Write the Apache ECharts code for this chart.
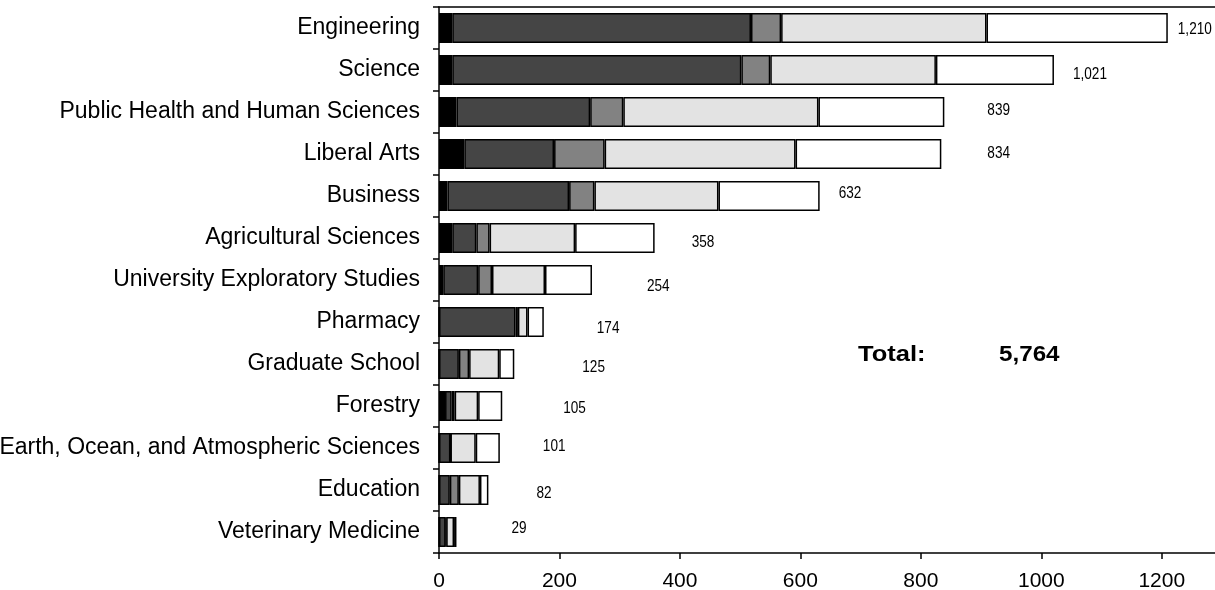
<!DOCTYPE html>
<html><head><meta charset="utf-8">
<script src="https://cdn.jsdelivr.net/npm/echarts@6/dist/echarts.min.js"></script>
<style>html,body{margin:0;padding:0;background:#fff;}#c{width:1215px;height:590px;}</style>
</head><body><div id="c"></div>
<script>
const categories = ["Engineering","Science","Public Health and Human Sciences","Liberal Arts","Business","Agricultural Sciences","University Exploratory Studies","Pharmacy","Graduate School","Forestry","Earth, Ocean, and Atmospheric Sciences","Education","Veterinary Medicine"];
const seg1 = [22, 22, 29, 42, 14, 22, 7, 0, 0, 10, 0, 0, 0];
const seg2 = [496, 480, 222, 149, 202, 40, 58, 127, 33, 11, 19, 18, 11];
const seg3 = [50, 48, 55, 84, 42, 22, 23, 4, 17, 5, 0, 15, 1];
const seg4 = [341, 275, 324, 317, 206, 142, 88, 16, 50, 39, 42, 35, 13];
const seg5 = [301, 196, 209, 242, 168, 132, 78, 27, 25, 40, 40, 14, 4];
const totals = [1210, 1021, 839, 834, 632, 358, 254, 174, 125, 105, 101, 82, 29];
const xTicks = [0, 200, 400, 600, 800, 1000, 1200];
const totalLabel = "Total:";
const grandTotal = "5,764";

// label placement (pixels) relative to bar end
const labelDx = [10, 19, 43, 46, 19, 37, 55, 53, 68, 61, 43, 48, 55];
const labelDy = [1, 4, -2, -1, -3, 4, 6, 6, 3, 2, -2, 3, -4];

const fmt = v => v.toLocaleString('en-US');
const colors = ['#000000', '#454545', '#828282', '#e3e3e3', '#ffffff'];
const segs = [seg1, seg2, seg3, seg4, seg5];
const FONT = '"Liberation Sans", Arial, sans-serif';

const series = segs.map((arr, si) => ({
  type: 'bar', stack: 'all', barWidth: 30,
  itemStyle: { color: colors[si], borderColor: '#000', borderWidth: 1.5 },
  emphasis: { disabled: true },
  data: arr
}));

series.push({
  type: 'custom',
  data: totals.map((t, i) => [t, i]),
  renderItem: function (params, api) {
    const i = params.dataIndex;
    const p = api.coord([api.value(0), api.value(1)]);
    return {
      type: 'text', x: p[0] + labelDx[i], y: p[1] + labelDy[i], scaleX: 0.8,
      style: { text: fmt(totals[i]), font: '17px ' + FONT, fill: '#000',
        align: 'left', verticalAlign: 'middle' }
    };
  },
  z: 10
});

const chart = echarts.init(document.getElementById('c'), null, { renderer: 'canvas' });
chart.setOption({
  animation: false,
  textStyle: { fontFamily: FONT },
  grid: { left: 439, top: 7, width: 783, bottom: 37, containLabel: false, outerBoundsMode: 'none' },
  xAxis: [{
    type: 'value', min: 0, max: 1300, interval: 200, position: 'bottom',
    axisLine: { show: true, lineStyle: { color: '#000', width: 1.5 } },
    axisTick: { show: true, length: 6, lineStyle: { color: '#000', width: 1.5 } },
    axisLabel: { color: '#000', fontSize: 21, margin: 18, showMaxLabel: false,
      formatter: v => xTicks.includes(v) ? String(v) : '' },
    splitLine: { show: false }
  }, {
    type: 'value', min: 0, max: 1300, position: 'top',
    axisLine: { show: true, lineStyle: { color: '#000', width: 1.5 } },
    axisTick: { show: false }, axisLabel: { show: false }, splitLine: { show: false }
  }],
  yAxis: {
    type: 'category', data: categories, inverse: true,
    axisLine: { show: true, lineStyle: { color: '#000', width: 1.5 } },
    axisTick: { show: true, length: 6, lineStyle: { color: '#000', width: 1.5 } },
    axisLabel: { color: '#000', fontSize: 23, margin: 19 }
  },
  series: series,
  graphic: [
    { type: 'text', x: 858, y: 355, scaleX: 1.16, style: { text: totalLabel, font: 'bold 22px ' + FONT, fill: '#000', verticalAlign: 'middle' } },
    { type: 'text', x: 999, y: 355, scaleX: 1.1, style: { text: grandTotal, font: 'bold 22px ' + FONT, fill: '#000', verticalAlign: 'middle' } }
  ]
});
</script></body></html>
